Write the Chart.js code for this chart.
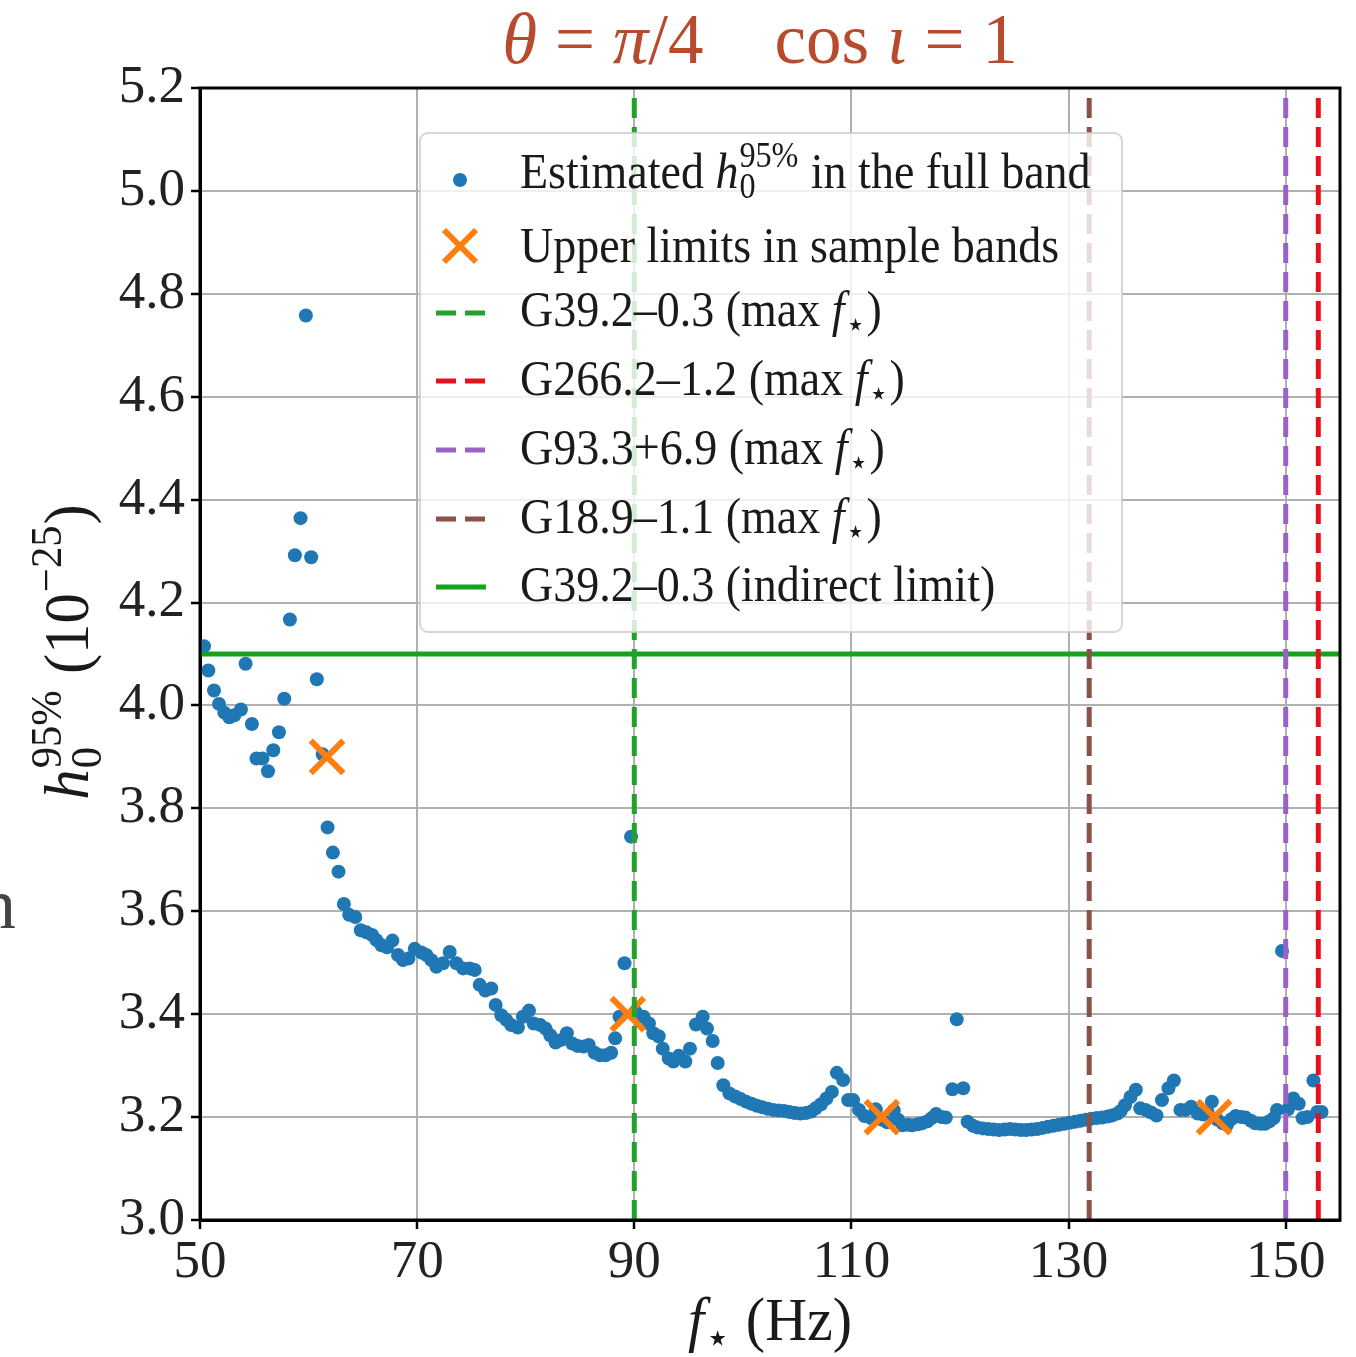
<!DOCTYPE html>
<html>
<head>
<meta charset="utf-8">
<script src="https://cdn.jsdelivr.net/npm/chart.js@4.4.1/dist/chart.umd.min.js"></script>
<style>
  body { margin: 0; background: #fff; }
  #wrap { width: 1356px; height: 1357px; }
</style>
</head>
<body>
<div id="wrap"><canvas id="ulChart" width="1356" height="1357"></canvas></div>
<script>
// estimated h0 (95%) across the full band, in units of 1e-25
const freqHz = [
  50.37, 50.77, 51.29, 51.75, 52.24, 52.70, 53.16, 53.77, 54.20, 54.78,
  55.20, 55.75, 56.26, 56.75, 57.27, 57.76, 58.28, 58.74, 59.26, 59.75,
  60.24, 60.76, 61.30, 61.75, 62.24, 62.76, 63.25, 63.74, 64.30, 64.81,
  65.33, 65.85, 66.25, 66.71, 67.23, 67.72, 68.24, 68.70, 69.20, 69.78,
  70.39, 70.85, 71.31, 71.77, 72.38, 73.00, 73.62, 74.23, 74.84, 75.30,
  75.76, 76.28, 76.83, 77.23, 77.75, 78.21, 78.67, 79.28, 79.74, 80.30,
  80.73, 81.34, 81.83, 82.26, 82.75, 83.27, 83.79, 84.28, 84.80, 85.33,
  85.81, 86.34, 86.86, 87.35, 87.87, 88.24, 88.64, 89.10, 89.70, 90.10,
  90.85, 91.35, 91.75, 92.25, 92.62, 93.17, 93.60, 94.10, 94.70, 95.13,
  95.68, 96.30, 96.70, 97.22, 97.68, 98.20, 98.76, 99.30, 99.80, 100.30,
  100.80, 101.30, 101.80, 102.30, 102.80, 103.30, 103.80, 104.30, 104.80, 105.30,
  105.80, 106.30, 106.70, 107.20, 107.70, 108.20, 108.66, 109.24, 109.70, 110.15,
  110.70, 111.20, 111.80, 112.25, 112.80, 113.30, 113.90, 114.30, 114.70, 115.20,
  115.60, 116.10, 116.50, 117.00, 117.40, 117.80, 118.30, 118.70, 119.30, 119.70,
  120.30, 120.70, 121.20, 121.60, 122.10, 122.60, 123.10, 123.60, 124.10, 124.60,
  125.10, 125.60, 126.10, 126.60, 127.10, 127.60, 128.10, 128.60, 129.10, 129.60,
  130.10, 130.60, 131.10, 131.60, 132.10, 132.60, 133.10, 133.60, 134.00, 134.50,
  134.80, 135.20, 135.70, 136.20, 136.60, 137.10, 137.60, 138.10, 138.60, 139.20,
  139.70, 140.30, 140.80, 141.30, 141.90, 142.40, 142.80, 143.20, 143.70, 144.20,
  144.60, 145.00, 145.40, 145.90, 146.30, 146.80, 147.20, 147.70, 148.10, 148.50,
  148.90, 149.20, 149.66, 150.20, 150.70, 151.20, 151.55, 152.00, 152.55, 152.90,
  153.30
];
const h0Est = [
  4.115, 4.068, 4.029, 4.003, 3.986, 3.977, 3.981, 3.992, 4.081, 3.964,
  3.897, 3.897, 3.872, 3.913, 3.948, 4.013, 4.167, 4.292, 4.364, 4.758,
  4.288, 4.051, 3.905, 3.763, 3.714, 3.677, 3.614, 3.593, 3.589, 3.563,
  3.559, 3.554, 3.544, 3.534, 3.530, 3.543, 3.515, 3.505, 3.508, 3.527,
  3.520, 3.515, 3.505, 3.492, 3.499, 3.521, 3.499, 3.489, 3.489, 3.486,
  3.457, 3.446, 3.450, 3.418, 3.398, 3.389, 3.379, 3.374, 3.395, 3.407,
  3.382, 3.379, 3.372, 3.359, 3.345, 3.350, 3.363, 3.343, 3.338, 3.337,
  3.340, 3.325, 3.320, 3.320, 3.325, 3.353, 3.395, 3.499, 3.745, 3.405,
  3.395, 3.382, 3.363, 3.357, 3.333, 3.314, 3.308, 3.319, 3.308, 3.333,
  3.380, 3.395, 3.372, 3.348, 3.305, 3.262, 3.246, 3.240, 3.235, 3.230,
  3.226, 3.222, 3.219, 3.216, 3.214, 3.213, 3.212, 3.210, 3.208, 3.207,
  3.208, 3.211, 3.217, 3.225, 3.236, 3.249, 3.286, 3.272, 3.233, 3.233,
  3.214, 3.202, 3.198, 3.215, 3.195, 3.190, 3.213, 3.195, 3.184, 3.185,
  3.184, 3.186, 3.188, 3.192, 3.198, 3.206, 3.200, 3.199, 3.254, 3.390,
  3.256, 3.191, 3.183, 3.180, 3.178, 3.177, 3.176, 3.175, 3.176, 3.177,
  3.176, 3.175, 3.175, 3.176, 3.177, 3.179, 3.181, 3.183, 3.185, 3.187,
  3.189, 3.191, 3.193, 3.195, 3.197, 3.198, 3.199, 3.201, 3.203, 3.207,
  3.212, 3.223, 3.239, 3.253, 3.217, 3.214, 3.209, 3.203, 3.233, 3.256,
  3.271, 3.214, 3.214, 3.220, 3.207, 3.205, 3.210, 3.230, 3.195, 3.188,
  3.185, 3.196, 3.202, 3.200, 3.199, 3.193, 3.188, 3.187, 3.187, 3.192,
  3.198, 3.214, 3.523, 3.215, 3.236, 3.226, 3.198, 3.200, 3.271, 3.210,
  3.210
];

// upper limits computed in the sample bands
const ulFreq = [61.7, 89.4, 112.8, 143.4];
const ulH0 = [3.90, 3.40, 3.20, 3.20];

// remnants and their maximum f*
const snrNames = ['G39.2–0.3', 'G266.2–1.2', 'G93.3+6.9', 'G18.9–1.1'];
const maxFreq = [90.0, 153.0, 150.0, 131.9];
const indirectName = 'G39.2–0.3';
const indirectLimit = 4.10;

const xTicks = [50, 70, 90, 110, 130, 150];
const yTicks = [3.0, 3.2, 3.4, 3.6, 3.8, 4.0, 4.2, 4.4, 4.6, 4.8, 5.0, 5.2];

const xMin = 50, xMax = 155, yMin = 3.0, yMax = 5.2;
const snrColors = ['#22a22a', '#e4121c', '#9a62c6', '#8c5048'];
const BLUE = '#1f77b4', ORANGE = '#ff7f0e', LIMIT_GREEN = '#16a31c';
const DASH = [20, 9];
const SERIF = '"Liberation Serif", "DejaVu Serif", "DejaVu Sans", serif';

function fnt(size, italic) {
  return (italic ? 'italic ' : '') + size + 'px ' + SERIF;
}

// text runs with optional stacked sub/superscripts
function richWidth(ctx, parts, size) {
  let w = 0;
  parts.forEach(p => {
    ctx.font = fnt(size, p.it);
    w += ctx.measureText(p.t).width;
    if (p.sub || p.sup) {
      ctx.font = fnt(size * 0.7, false);
      w += Math.max(p.sub ? ctx.measureText(p.sub).width : 0,
                    p.sup ? ctx.measureText(p.sup).width : 0) + 2;
    }
  });
  return w;
}

// sx squeezes the run horizontally (the serif face is wider than the plot's)
function drawRich(ctx, parts, x, y, size, align, sx) {
  sx = sx || 1;
  const w = richWidth(ctx, parts, size) * sx;
  ctx.save();
  ctx.translate(align === 'center' ? x - w / 2 : x, y);
  ctx.scale(sx, 1);
  ctx.textAlign = 'left';
  ctx.textBaseline = 'alphabetic';
  let cx = 0;
  parts.forEach(p => {
    ctx.font = fnt(size, p.it);
    ctx.fillText(p.t, cx, 0);
    cx += ctx.measureText(p.t).width;
    if (p.sub || p.sup) {
      ctx.font = fnt(size * 0.7, false);
      let sw = 0;
      if (p.sup) {
        ctx.fillText(p.sup, cx + 1, -size * 0.42);
        sw = ctx.measureText(p.sup).width;
      }
      if (p.sub) {
        ctx.fillText(p.sub, cx + 1, size * 0.2);
        sw = Math.max(sw, ctx.measureText(p.sub).width);
      }
      cx += sw + 2;
    }
  });
  ctx.restore();
}

const fStar = { t: 'f', it: true, sub: '⋆' };
const h95 = { t: 'h', it: true, sub: '0', sup: '95%' };

const legendRows = [
  { kind: 'dot', text: [{ t: 'Estimated ' }, h95, { t: ' in the full band' }] },
  { kind: 'cross', text: [{ t: 'Upper limits in sample bands' }] },
  ...snrNames.map((n, i) => ({
    kind: 'dash', color: snrColors[i],
    text: [{ t: n + ' (max ' }, fStar, { t: ')' }]
  })),
  { kind: 'solid', color: LIMIT_GREEN, text: [{ t: indirectName + ' (indirect limit)' }] }
];
const legendMarkY = [180, 246, 313, 381, 450, 519, 587];
const legendTextY = [188, 262, 326, 395, 464, 533, 601];

const decor = {
  id: 'decor',
  afterDatasetsDraw(chart) {
    const { ctx, chartArea: a } = chart;
    ctx.save();
    // frame on all four sides
    ctx.strokeStyle = '#000';
    ctx.lineWidth = 3;
    ctx.strokeRect(a.left, a.top, a.right - a.left, a.bottom - a.top);

    // legend box
    const bx = 420, by = 133, bw = 702, bh = 499;
    ctx.beginPath();
    ctx.roundRect(bx, by, bw, bh, 8);
    ctx.fillStyle = 'rgba(255,255,255,0.8)';
    ctx.fill();
    ctx.strokeStyle = 'rgba(204,204,204,0.8)';
    ctx.lineWidth = 2;
    ctx.stroke();

    legendRows.forEach((row, i) => {
      const y = legendMarkY[i];
      const mx = 460;
      ctx.setLineDash([]);
      if (row.kind === 'dot') {
        ctx.fillStyle = BLUE;
        ctx.beginPath();
        ctx.arc(mx, y, 7, 0, Math.PI * 2);
        ctx.fill();
      } else if (row.kind === 'cross') {
        ctx.strokeStyle = ORANGE;
        ctx.lineWidth = 6;
        ctx.beginPath();
        ctx.moveTo(mx - 16, y - 16); ctx.lineTo(mx + 16, y + 16);
        ctx.moveTo(mx + 16, y - 16); ctx.lineTo(mx - 16, y + 16);
        ctx.stroke();
      } else {
        ctx.strokeStyle = row.color;
        ctx.lineWidth = 5;
        if (row.kind === 'dash') ctx.setLineDash(DASH);
        ctx.beginPath();
        ctx.moveTo(436, y); ctx.lineTo(486, y);
        ctx.stroke();
      }
      ctx.setLineDash([]);
      ctx.fillStyle = '#1a1a1a';
      drawRich(ctx, row.text, 520, legendTextY[i], 50, 'left', 0.92);
    });
    ctx.restore();
  },
  afterDraw(chart) {
    const { ctx } = chart;
    ctx.save();
    // panel title
    ctx.fillStyle = '#b84a2e';
    drawRich(ctx, [
      { t: 'θ', it: true }, { t: ' = ' }, { t: 'π', it: true }, { t: '/4    cos ' },
      { t: 'ι', it: true }, { t: ' = 1' }
    ], 760, 63, 71, 'center');

    // axis titles
    ctx.fillStyle = '#1a1a1a';
    drawRich(ctx, [fStar, { t: ' (Hz)' }], 770, 1340, 61, 'center', 0.95);
    ctx.translate(88, 652);
    ctx.rotate(-Math.PI / 2);
    drawRich(ctx, [h95, { t: ' (10', sup: '−25' }, { t: ')' }], 0, 0, 64, 'center', 0.95);
    ctx.restore();

    // stray glyph of neighbouring page text at the left edge
    ctx.save();
    ctx.fillStyle = '#444';
    ctx.font = fnt(72, false);
    ctx.textBaseline = 'alphabetic';
    ctx.fillText('n', -20, 928);
    ctx.restore();
  }
};

const ctx = document.getElementById('ulChart').getContext('2d');
new Chart(ctx, {
  type: 'scatter',
  data: {
    datasets: [
      ...maxFreq.map((f, i) => ({
        type: 'line',
        label: snrNames[i] + ' (max f*)',
        data: [{ x: f, y: yMin }, { x: f, y: yMax }],
        borderColor: snrColors[i],
        borderWidth: 5,
        borderDash: DASH,
        pointRadius: 0,
        showLine: true,
        order: 1
      })),
      {
        type: 'line',
        label: indirectName + ' (indirect limit)',
        data: [{ x: xMin, y: indirectLimit }, { x: xMax, y: indirectLimit }],
        borderColor: LIMIT_GREEN,
        borderWidth: 5,
        pointRadius: 0,
        showLine: true,
        order: 1
      },
      {
        label: 'Upper limits in sample bands',
        data: ulFreq.map((f, i) => ({ x: f, y: ulH0[i] })),
        pointStyle: 'crossRot',
        pointRadius: 23,
        borderColor: ORANGE,
        borderWidth: 6,
        order: 2
      },
      {
        label: 'Estimated h0 in the full band',
        data: freqHz.map((f, i) => ({ x: f, y: h0Est[i] })),
        pointRadius: 7,
        backgroundColor: BLUE,
        borderWidth: 0,
        order: 3
      }
    ]
  },
  options: {
    responsive: false,
    animation: false,
    devicePixelRatio: 1,
    layout: { autoPadding: false, padding: { top: 88, right: 16, left: 0, bottom: 0 } },
    plugins: { legend: { display: false }, tooltip: { enabled: false } },
    scales: {
      x: {
        type: 'linear', min: xMin, max: xMax,
        afterBuildTicks: s => { s.ticks = xTicks.map(v => ({ value: v })); },
        afterFit: s => { s.height = 137; },
        grid: { color: '#b0b0b0', lineWidth: 2, tickLength: 9, tickColor: '#000', tickWidth: 2.5 },
        border: { color: '#000', width: 3 },
        ticks: {
          font: { family: SERIF, size: 53 }, color: '#222', padding: 2,
          maxRotation: 0, autoSkip: false, callback: v => String(v)
        }
      },
      y: {
        type: 'linear', min: yMin, max: yMax,
        afterBuildTicks: s => { s.ticks = yTicks.map(v => ({ value: v })); },
        afterFit: s => { s.width = 200; },
        grid: { color: '#b0b0b0', lineWidth: 2, tickLength: 9, tickColor: '#000', tickWidth: 2.5 },
        border: { color: '#000', width: 3 },
        ticks: {
          font: { family: SERIF, size: 53 }, color: '#222', padding: 6,
          autoSkip: false, callback: v => v.toFixed(1)
        }
      }
    }
  },
  plugins: [decor]
});
</script>
</body>
</html>
